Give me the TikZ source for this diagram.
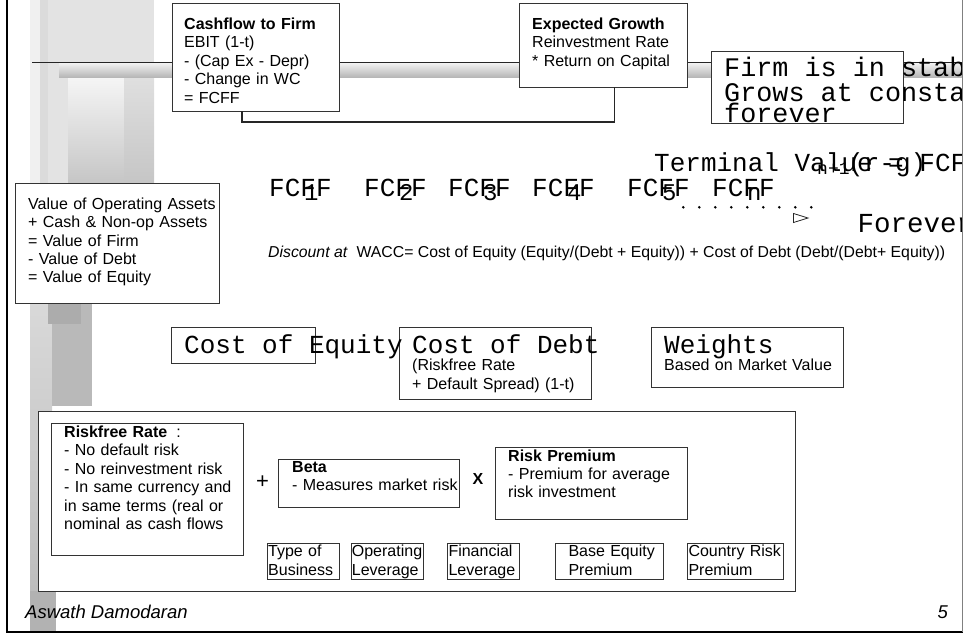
\documentclass[tikz,border=0pt]{standalone}
\usepackage{fontspec}
\setmainfont{Liberation Sans}
\newfontfamily\monofam{Liberation Mono}
% one full character cell of the monospaced face
\newcommand\msp{\phantom{x}}
\begin{document}
\begin{tikzpicture}[x=1pt,y=-1pt,
  box/.style={draw=black!80, line width=1.2pt, fill=white, inner sep=0pt, anchor=north west},
  tbox/.style={draw=black!80, line width=0.9pt, fill=white, inner sep=0pt, anchor=north west},
  body/.style={inner sep=0pt, anchor=base west, align=left, text width=300pt,
    font=\fontsize{16}{18.5}\selectfont},
  mono/.style={inner sep=0pt, anchor=base west, align=left, text width=600pt,
    font=\monofam\fontsize{26}{15.5}\selectfont},
  sub/.style={inner sep=0pt, anchor=base west, font=\monofam\fontsize{24}{24}\selectfont},
  small/.style={inner sep=0pt, anchor=base west, font=\monofam\fontsize{18}{18}\selectfont},
  link/.style={draw=black!85, line width=1.1pt},
]
\useasboundingbox (0,0) rectangle (964,634);

% --- decorative gray columns on the left
\fill[gray!22] (30,0) rectangle (154,183);
\fill[gray!12] (30,0) rectangle (40,183);
\fill[gray!28] (40,0) rectangle (48,183);
\shade[top color=gray!8, bottom color=gray!45] (68,78) rectangle (124,183);
\shade[top color=gray!25, bottom color=gray!45] (124,78) rectangle (154,183);
\shade[top color=gray!30, bottom color=gray!55] (30,303) rectangle (52,632);
\fill[gray!55] (52,303) rectangle (92,406);
\fill[gray!65] (48,303) rectangle (81,324);
\fill[gray!60] (30,591) rectangle (56,632);

% --- horizontal bar across the top
\shade[top color=gray!10, bottom color=gray!60] (59,63) rectangle (962,78);
\draw[black!85, line width=0.8pt] (32,62.5) -- (962,62.5);

% --- boxes
\node (cf) [box, minimum width=167pt, minimum height=108pt] at (172,3) {};
\node (eg) [box, minimum width=168pt, minimum height=84pt] at (519,3) {};
\node (st) [box, minimum width=192pt, minimum height=72pt] at (711,51) {};
\node (val) [box, minimum width=204pt, minimum height=120pt] at (15,183) {};
\node (ce) [box, minimum width=144pt, minimum height=36pt] at (171,327) {};
\node (cd) [box, minimum width=192pt, minimum height=72pt] at (399,327) {};
\node (wt) [box, minimum width=192pt, minimum height=60pt] at (651,327) {};
\node (big) [box, minimum width=757pt, minimum height=180.5pt] at (38,410.5) {};
\node (rf) [box, minimum width=192pt, minimum height=132pt] at (51,423) {};
\node (beta) [box, minimum width=181pt, minimum height=48pt] at (278,459) {};
\node (rp) [box, minimum width=192pt, minimum height=72pt] at (495,447) {};
\node (tb) [tbox, minimum width=72pt, minimum height=36pt] at (267,543) {};
\node (ol) [tbox, minimum width=72pt, minimum height=36pt] at (351,543) {};
\node (fl) [tbox, minimum width=72pt, minimum height=36pt] at (447,543) {};
\node (be) [tbox, minimum width=108pt, minimum height=36pt] at (555,543) {};
\node (cr) [tbox, minimum width=96pt, minimum height=36pt] at (687,543) {};

% --- bracket joining the cash flow and growth boxes
\coordinate (cfb) at (242,111);
\coordinate (egb) at (614.7,87);
\draw[link] (cfb) |- (570,122) -| (egb);

% --- box texts
\node (cft) [body] at (184,29.5) {\textbf{Cashflow to Firm}\\EBIT (1-t)\\- (Cap Ex - Depr)\\- Change in WC\\= FCFF};
\node (egt) [body] at (532,29.5) {\textbf{Expected Growth}\\Reinvestment Rate\\{*} Return on Capital};
\node (valt) [body, font=\fontsize{16}{18.35}\selectfont] at (28,209.3) {Value of Operating Assets\\+ Cash \& Non-op Assets\\= Value of Firm\\- Value of Debt\\= Value of Equity};
\node (cdt) [body] at (412,370.5) {(Riskfree Rate\\+ Default Spread) (1-t)};
\node (wtt) [body] at (664,370) {Based on Market Value};
\node (rft) [body] at (64,437.3) {\textbf{Riskfree Rate}\hspace{9pt}:\\- No default risk\\- No reinvestment risk\\- In same currency and\\in same terms (real or\\nominal as cash flows};
\node (betat) [body, font=\fontsize{16}{18}\selectfont] at (292,472) {\textbf{Beta}\\- Measures market risk};
\node (rpt) [body, font=\fontsize{16}{18.2}\selectfont] at (508,461) {\textbf{Risk Premium}\\- Premium for average\\risk investment};
\node (plus) [inner sep=0pt, font=\fontsize{22}{22}\selectfont] at (262.5,482.5) {+};
\node (times) [inner sep=0pt, font=\bfseries\fontsize{16}{16}\selectfont] at (478,479) {X};
\node (tbt) [body, font=\fontsize{16}{18.3}\selectfont] at (268,556.7) {Type of\\Business};
\node (olt) [body, font=\fontsize{16}{18.3}\selectfont] at (351.7,556.7) {Operating\\Leverage};
\node (flt) [body, font=\fontsize{16}{18.3}\selectfont] at (448.3,556.7) {Financial\\Leverage};
\node (bet) [body, font=\fontsize{16}{18.3}\selectfont] at (568.3,556.7) {Base Equity\\Premium};
\node (crt) [body, font=\fontsize{16}{18.3}\selectfont] at (688.3,556.7) {Country Risk\\Premium};

\node (disc) [inner sep=0pt, anchor=base west, font=\fontsize{15.8}{18}\selectfont] at (268,257) {\textit{Discount at}\ \ WACC= Cost of Equity (Equity/(Debt + Equity)) + Cost of Debt (Debt/(Debt+ Equity))};

\node (cet) [mono] at (184,353.3) {Cost\msp of\msp Equity};
\node (cdh) [mono] at (412,353.3) {Cost\msp of\msp Debt};
\node (wth) [mono] at (664,353.3) {Weights};

% --- cash flow timeline
\foreach \nm/\xx/\dd in {f1/269/1, f2/364/2, f3/448/3, f4/532/4, f5/627/5, fn/712/n} {
  \node (\nm) [mono] at (\xx,196.7) {FCFF};
  \node (\nm s) [sub] at (\xx+35,200.5) {\dd};
}
\foreach \i in {0,...,8} \fill (683.3+16*\i,207.3) circle (1.4pt);
\coordinate (tipa) at (793.5,213.5);
\coordinate (tipb) at (793.5,222.5);
\coordinate (tipc) at (808,218);
\draw[black!85, line width=0.8pt] (tipa) -- (tipc) -- (tipb) -- cycle;

% --- texts running past the right edge
\begin{scope}
\clip (0,0) rectangle (961.5,634);
\node (stt) [mono, font=\monofam\fontsize{26.8}{15.8}\selectfont] at (724,77) {Firm\msp is\msp in\msp stable\msp growth:\\Grows\msp at\msp constant\msp rate\\forever};
\node (tv) [mono] at (654,171.7) {Terminal\msp Value\msp =\msp FCFF};
\node (tvs) [small] at (817,174) {n+1};
\node (tvd) [mono] at (848,171.7) {(r-g)};
\node (fev) [mono, font=\monofam\fontsize{27.5}{15.5}\selectfont] at (857.3,232.7) {Forever};
\end{scope}

% --- footer
\node (auth) [inner sep=0pt, anchor=base west, font=\itshape\fontsize{18.5}{18.5}\selectfont] at (25,618.3) {Aswath Damodaran};
\node (pg) [inner sep=0pt, anchor=base east, font=\itshape\fontsize{18.5}{18.5}\selectfont] at (948,618.3) {5};

% --- page frame
\draw[black, line width=2.4pt] (7,0) -- (7,633);
\draw[black, line width=1.6pt] (6,632) -- (963,632);
\draw[gray, line width=0.8pt] (962.5,0) -- (962.5,632);
\end{tikzpicture}
\end{document}
